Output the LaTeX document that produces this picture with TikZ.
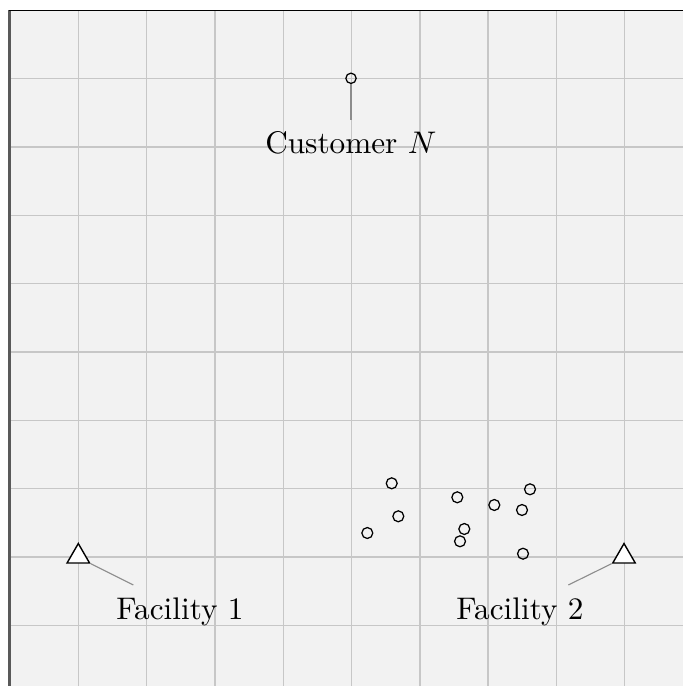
\documentclass[tikz,border=0pt]{standalone}
\usetikzlibrary{shapes.geometric}
\begin{document}
\begin{tikzpicture}[x=0.32pt,y=-0.32pt,
  gridline/.style={draw=black!22, line width=0.45pt},
  cust/.style={circle, draw=black, line width=0.4pt, inner sep=0pt, minimum size=3.5pt},
  fac/.style={regular polygon, regular polygon sides=3, draw=black, fill=white, line width=0.45pt, inner sep=0pt, minimum size=8.3pt},
  leader/.style={draw=black!45, line width=0.35pt},
  lbl/.style={font=\normalsize, anchor=base, inner sep=0pt}]
\useasboundingbox (0,0) rectangle (683,686);
\fill[black!5] (10,10.5) rectangle (683,686);
% grid
\foreach \k in {1,...,9} {
  \draw[gridline] ({10+68.3*\k},10.5) -- ({10+68.3*\k},686);
  \draw[gridline] (10,{10.5+68.3*\k}) -- (683,{10.5+68.3*\k});
}
% spines
\draw[black!65, line width=0.7pt] (9.5,10.5) -- (9.5,686);
\draw[black, line width=0.6pt] (9,10.5) -- (683,10.5);
% customers
\node[cust] (c1) at (391.7,483.3) {};
\node[cust] (c2) at (398.3,516.3) {};
\node[cust] (c3) at (367.3,533) {};
\node[cust] (c4) at (457.3,497.3) {};
\node[cust] (c5) at (464.3,529) {};
\node[cust] (c6) at (460,541.3) {};
\node[cust] (c7) at (494.3,505) {};
\node[cust] (c8) at (530,489.3) {};
\node[cust] (c9) at (522,510) {};
\node[cust] (c10) at (523,553.7) {};
\node[cust, minimum size=3.3pt] (cN) at (351,78.3) {};
\coordinate (cNend) at (351,120);
\draw[leader] (cN.south) -- (cNend);
\node[lbl] (cNlbl) at (350.8,153.3) {Customer $N$};
% facilities
\node[fac] (f1) at (78.3,556.5) {};
\node[fac] (f2) at (624,556.5) {};
\coordinate (f1end) at (133.3,585);
\coordinate (f2end) at (568.3,585);
\draw[leader] (f1.corner 3) -- (f1end);
\draw[leader] (f2.corner 2) -- (f2end);
\node[lbl] (f1lbl) at (180,619.3) {Facility 1};
\node[lbl] (f2lbl) at (520,619.3) {Facility 2};
\end{tikzpicture}
\end{document}
